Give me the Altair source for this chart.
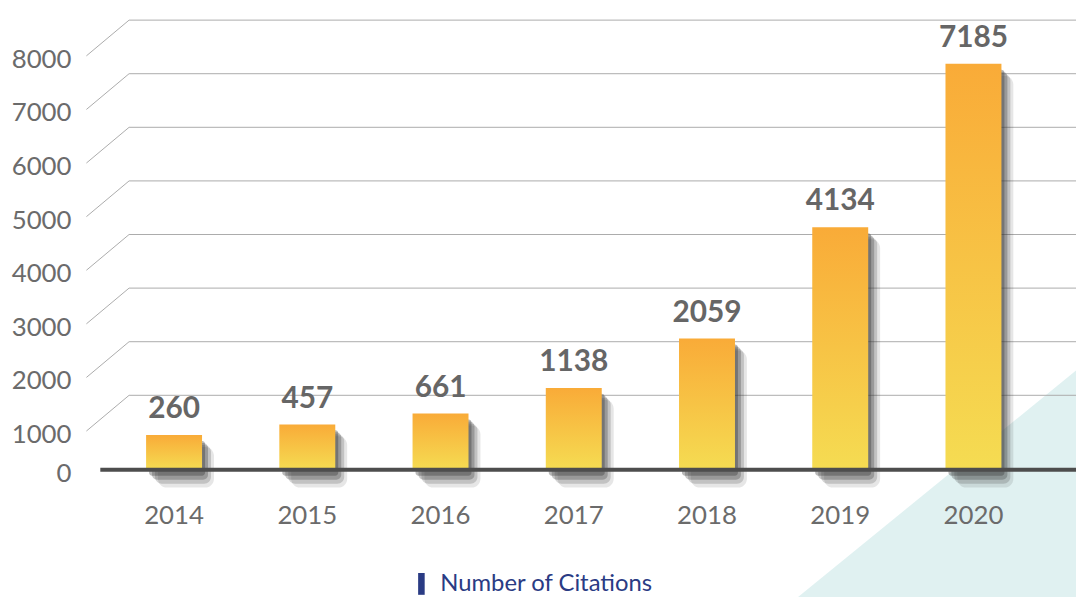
import altair as alt
import pandas as pd

years = ["2014", "2015", "2016", "2017", "2018", "2019", "2020"]
citations = [260, 457, 661, 1138, 2059, 4134, 7185]
series_name = ["Number of Citations"]
y_ticks = [0, 1000, 2000, 3000, 4000, 5000, 6000, 7000, 8000]

df = pd.DataFrame({"year": years, "value": citations, "series": series_name * len(years)})
ticks = pd.DataFrame({"tick": y_ticks, "label": [str(t) for t in y_ticks]})
deco = pd.DataFrame({"d": [1]})

FONT = "Lato"
LABEL_GREY = "#6b6b6b"

xscale = alt.Scale(domain=years, range=[1, 899], paddingInner=0.58, paddingOuter=0.135)
yscale = alt.Scale(domain=[0, 8000], nice=False, zero=True)

X = alt.X("year:N", scale=xscale, sort=years,
          axis=alt.Axis(title=None, domain=False, ticks=False, tickSize=0, labelAngle=0,
                        labelFont=FONT, labelFontSize=26, labelColor=LABEL_GREY,
                        labelBaseline="middle", labelPadding=67, grid=False, zindex=1))
Y = alt.Y("value:Q", scale=yscale, axis=None)
YT = alt.Y("tick:Q", scale=yscale, axis=None)

# decorative teal triangle in the lower-right corner
triangle = alt.Chart(deco).mark_point(
    shape="M1,-0.63L1,1L-1,1Z", filled=True, size=78961, color="#e0f1f1",
    opacity=1, strokeWidth=0
).encode(x=alt.value(815.5), y=alt.value(441.5))

gridlines = alt.Chart(ticks).transform_filter("datum.tick > 0").mark_rule(
    color="#ababab", strokeWidth=1
).encode(y=YT, x=alt.value(2), x2=alt.value(956))

diagonals = alt.Chart(ticks).transform_filter("datum.tick > 0").mark_rule(
    color="#ababab", strokeWidth=1, y2Offset=36
).encode(y=YT, y2="tick:Q", x=alt.value(2), x2=alt.value(-41))

ylabels = alt.Chart(ticks).transform_filter("datum.tick > 0").mark_text(
    align="right", baseline="middle", dy=40, font=FONT, fontSize=26, color=LABEL_GREY
).encode(y=YT, text="label:N", x=alt.value(-56))

ylabel0 = alt.Chart(ticks).transform_filter("datum.tick == 0").mark_text(
    align="right", baseline="middle", dy=25, font=FONT, fontSize=26, color=LABEL_GREY
).encode(y=YT, text="label:N", x=alt.value(-56))

shadows = []
for xo, yo, y2o, op, cr in [(3, 6, 27, 0.35, 3), (6, 8, 31, 0.28, 5),
                            (9, 10, 35, 0.2, 7), (12, 12, 39, 0.12, 9)]:
    shadows.append(
        alt.Chart(df).mark_bar(color="#333333", opacity=op, xOffset=xo, yOffset=yo,
                               y2Offset=y2o, cornerRadius=cr)
        .encode(x=X, y=Y, y2=alt.datum(0))
    )

bar_gradient = alt.Gradient(
    gradient="linear",
    stops=[alt.GradientStop(color="#f9ab38", offset=0),
           alt.GradientStop(color="#f5dc52", offset=1)],
    x1=0, x2=0, y1=0, y2=1,
)

bars = alt.Chart(df).mark_bar(fill=bar_gradient, y2Offset=21).encode(
    x=X, y=Y, y2=alt.datum(0)
)

baseline = alt.Chart(deco).transform_calculate(zero="0").mark_rule(
    color="#4d4d4d", strokeWidth=4, yOffset=21
).encode(y=alt.Y("zero:Q", scale=yscale, axis=None), x=alt.value(-27), x2=alt.value(956))

values = alt.Chart(df).mark_text(
    baseline="alphabetic", dy=-17, font=FONT, fontSize=30, fontWeight="bold", color="#666666"
).encode(x=X, y=Y, text="value:Q")

legend_layer = alt.Chart(df).mark_point(filled=True, opacity=0).encode(
    x=X, y=Y,
    color=alt.Color("series:N", scale=alt.Scale(domain=series_name, range=["#2a3b84"]),
                    legend=alt.Legend(title=None, orient="none", legendX=284.5, legendY=556,
                                      symbolType="M-0.3,-1H0.3V1H-0.3Z", symbolSize=484,
                                      symbolOpacity=1, symbolStrokeWidth=0,
                                      labelFont=FONT, labelFontSize=24, labelColor="#2a3b84",
                                      labelOffset=7, labelLimit=0, padding=0))
)

chart = alt.layer(
    triangle, gridlines, diagonals, ylabels, ylabel0, *shadows, bars, baseline, values, legend_layer
).properties(
    width=956, height=432,
    padding={"left": 120, "top": 10, "right": 0, "bottom": 147},
    autosize=alt.AutoSizeParams(type="none"),
).configure_view(stroke=None).configure_axis(grid=False)

chart.save("out.html", embed_options={"renderer": "svg", "actions": False})
